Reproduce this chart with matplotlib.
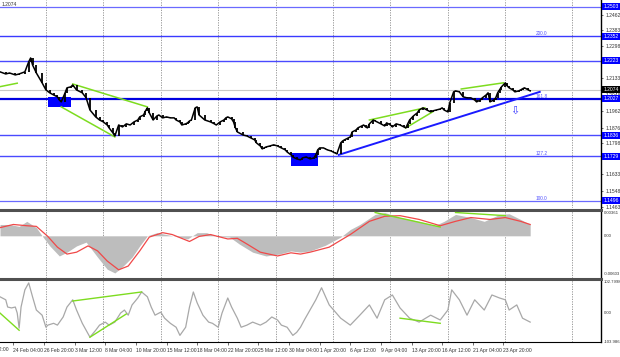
import matplotlib.pyplot as plt

# price samples (bar index, close)
price_bar = [0, 3, 5, 8, 10, 13, 15, 16, 17, 19, 22, 24, 26, 28, 30, 31, 32, 34, 35, 37, 38, 40, 43, 45, 47,
             50, 52, 54, 56, 57, 59, 60, 62, 64, 66, 68, 70, 72, 73, 75, 76, 77, 78, 80, 82, 83, 85, 87, 89,
             91, 92, 94, 95, 97, 98, 99, 100, 102, 103, 104, 107, 110, 112, 113, 115, 117, 118, 119, 121,
             122, 123, 124, 127, 129, 131, 133, 134, 136, 137, 138, 139, 141, 143, 145, 147, 149, 150, 152,
             153, 155, 157, 158, 160, 162, 164, 165, 166, 167, 169, 170, 171, 173, 174, 175, 176, 178, 179,
             180, 182, 183, 184, 186, 187, 189, 190, 191, 192, 193, 195, 196, 199, 201, 202, 204, 205, 207,
             209, 211, 212, 213, 214, 216, 218, 219, 221, 223, 225, 226, 228, 230, 231, 232, 234, 235, 237,
             238, 240, 242, 244, 246, 248, 249, 251, 252, 254, 255, 256, 258, 259, 260, 261, 262, 264, 265,
             266, 268, 269, 271, 272, 273, 274, 276, 277]
price = [1.2166, 1.2155, 1.2160, 1.2150, 1.2155, 1.2166, 1.2218, 1.2238, 1.2202, 1.2160, 1.2109, 1.2072,
         1.2057, 1.2046, 1.2036, 1.2020, 1.2010, 1.2057, 1.2083, 1.2088, 1.2098, 1.2072, 1.2057, 1.2031,
         1.1968, 1.1932, 1.1916, 1.1906, 1.1890, 1.1875, 1.1849, 1.1833, 1.1890, 1.1880, 1.1896, 1.1890,
         1.1906, 1.1916, 1.1932, 1.1942, 1.1963, 1.1979, 1.1953, 1.1916, 1.1937, 1.1942, 1.1927, 1.1932,
         1.1927, 1.1927, 1.1916, 1.1906, 1.1890, 1.1896, 1.1901, 1.1911, 1.1916, 1.1979, 1.1984, 1.1942,
         1.1916, 1.1906, 1.1896, 1.1890, 1.1906, 1.1916, 1.1927, 1.1932, 1.1922, 1.1906, 1.1875, 1.1854,
         1.1838, 1.1833, 1.1823, 1.1813, 1.1797, 1.1781, 1.1766, 1.1771, 1.1776, 1.1781, 1.1787, 1.1781,
         1.1771, 1.1761, 1.1750, 1.1735, 1.1724, 1.1714, 1.1709, 1.1719, 1.1724, 1.1714, 1.1719, 1.1735,
         1.1761, 1.1771, 1.1771, 1.1766, 1.1761, 1.1755, 1.1750, 1.1745, 1.1740, 1.1797, 1.1807, 1.1813,
         1.1823, 1.1828, 1.1854, 1.1864, 1.1875, 1.1885, 1.1890, 1.1880, 1.1875, 1.1896, 1.1916, 1.1911,
         1.1896, 1.1885, 1.1901, 1.1890, 1.1880, 1.1896, 1.1890, 1.1880, 1.1875, 1.1896, 1.1916, 1.1937,
         1.1953, 1.1968, 1.1979, 1.1968, 1.1958, 1.1963, 1.1968, 1.1973, 1.1979, 1.1968, 1.1958, 1.2005,
         1.2062, 1.2067, 1.2062, 1.2036, 1.2031, 1.2031, 1.2020, 1.2010, 1.2020, 1.2031, 1.2046, 1.2057,
         1.2010, 1.2020, 1.2031, 1.2057, 1.2072, 1.2088, 1.2109, 1.2093, 1.2083, 1.2072, 1.2062, 1.2067,
         1.2072, 1.2078, 1.2083, 1.2072, 1.2067]
last_price = 1.2074

# horizontal levels on the price panel
level_price = [1.2503, 1.2352, 1.2223, 1.2027, 1.1836, 1.1729, 1.1496]
level_fibo = ["", "200.0", "", "161.8", "", "127.2", "100.0"]
level_width = [0.9, 1.0, 1.0, 1.6, 1.0, 1.0, 0.9]
level_color = ["#6a6aff", "#3a3aff", "#4a4aff", "#0000e0", "#4a4aff", "#4a4aff", "#6a6aff"]
price_ticks = [1.2462, 1.2383, 1.2298, 1.2133, 1.2048, 1.1962, 1.1876, 1.1798, 1.1717, 1.1633, 1.1548, 1.1463]

green_price = [((0, 1.2089), (9, 1.2107)), ((38, 1.2103), (77, 1.1984)), ((32, 1.1984), (60, 1.1828)),
               ((193, 1.1916), (222, 1.1979)), ((212, 1.1875), (226, 1.1958)), ((241, 1.2077), (263, 1.2109))]
trend_line = ((177, 1.1735), (282, 1.2062))
boxes = [((25, 37), (1.1984, 1.2036)), ((152, 166), (1.1678, 1.1745))]
arrow_at = (269, 1.1963)

# MACD histogram and signal
macd_bar = [0, 5, 10, 14, 19, 22, 26, 31, 35, 40, 45, 51, 56, 60, 64, 69, 73, 77, 82, 87, 92, 98, 103, 108,
            113, 120, 125, 132, 139, 146, 152, 157, 162, 170, 178, 183, 188, 196, 201, 209, 219, 227, 232,
            238, 246, 253, 261, 266, 272, 277]
macd_hist = [0.0018, 0.0018, 0.0015, 0.0023, 0.0013, 0.0, -0.0016, -0.0032, -0.0026, -0.0016, -0.0010,
             -0.0034, -0.0053, -0.0059, -0.0049, -0.0034, -0.0016, 0.0, 0.0005, 0.0002, -0.0001, -0.0005,
             0.0005, 0.0005, -0.0001, -0.0002, -0.0013, -0.0026, -0.0032, -0.0029, -0.0024, -0.0026,
             -0.0024, -0.0015, -0.0002, 0.0010, 0.0018, 0.0034, 0.0037, 0.0029, 0.0023, 0.0016, 0.0023,
             0.0034, 0.0029, 0.0023, 0.0034, 0.0035, 0.0026, 0.0018]
signal_bar = [0, 7, 14, 19, 25, 30, 35, 40, 46, 51, 56, 62, 67, 73, 78, 85, 90, 99, 104, 110, 119, 124, 129,
              136, 145, 152, 157, 162, 172, 183, 193, 201, 209, 219, 230, 238, 246, 256, 264, 272, 277]
signal = [0.0013, 0.0018, 0.0016, 0.0015, -0.0001, -0.0018, -0.0029, -0.0026, -0.0016, -0.0024, -0.0040,
          -0.0054, -0.0048, -0.0024, -0.0002, 0.0005, 0.0002, -0.0009, -0.0001, 0.0002, -0.0005, -0.0004,
          -0.0013, -0.0026, -0.0032, -0.0027, -0.0029, -0.0026, -0.0018, 0.0002, 0.0023, 0.0031, 0.0032,
          0.0026, 0.0016, 0.0023, 0.0029, 0.0026, 0.0029, 0.0023, 0.0018]
green_macd = [((196, 0.0037), (230, 0.0014)), ((238, 0.0037), (264, 0.0032))]

# oscillator (CCI)
osc_bar = [0, 3, 4, 6, 8, 9, 10, 11, 13, 15, 17, 19, 22, 24, 25, 28, 30, 33, 35, 38, 40, 43, 47, 50, 52, 55,
           57, 60, 63, 65, 67, 69, 72, 74, 77, 79, 81, 84, 86, 89, 92, 94, 97, 99, 101, 103, 106, 109, 111,
           114, 116, 119, 121, 124, 126, 129, 132, 136, 139, 142, 145, 147, 150, 153, 155, 157, 159, 165,
           168, 172, 178, 183, 188, 193, 197, 201, 205, 209, 214, 219, 225, 230, 234, 236, 240, 244, 248,
           253, 257, 261, 264, 266, 270, 273, 277]
osc = [54, 44, 20, 17, 20, 0, -50, 20, 77, 100, 54, 10, -7, -47, -40, -34, -40, -13, 20, 44, 10, -34, -80,
       -57, -40, -30, -40, -30, 0, 10, -7, 27, 50, 70, 54, 20, -7, 3, -17, -34, -47, -74, -47, 20, 70, 34,
       -7, -30, -34, -47, 0, 50, 20, -17, -47, -40, -30, -40, -30, -13, -23, -40, -47, -74, -64, -47, -23,
       44, 84, 27, -17, -40, -7, 27, -17, 44, 60, 17, -17, -30, -7, -23, 10, 77, 44, -7, 44, 10, 60, 50,
       44, 10, 27, -17, -30]
green_osc = [((0, 0), (10, -57)), ((38, 40), (74, 70)), ((47, -80), (66, -3)), ((209, -17), (230, -34))]

tick_bar = [7, 23, 39, 55, 71, 87, 103, 119, 135, 151, 167, 183, 199, 215, 231, 247, 263]
tick_label = ["24 Feb 04:00", "26 Feb 20:00", "3 Mar 12:00", "8 Mar 04:00", "10 Mar 20:00", "15 Mar 12:00",
              "18 Mar 04:00", "22 Mar 20:00", "25 Mar 12:00", "30 Mar 04:00", "1 Apr 20:00", "6 Apr 12:00",
              "9 Apr 04:00", "13 Apr 20:00", "16 Apr 12:00", "21 Apr 04:00", "23 Apr 20:00"]
grid_bar = [24, 54, 84, 114, 144, 174, 204, 234, 264, 299]

plt.rcParams['font.family'] = ['Liberation Sans', 'DejaVu Sans']
W, H = 620, 357
fig = plt.figure(figsize=(6.2, 3.57), dpi=100)


def panel(top, bottom, share=None):
    return fig.add_axes([0, (H - bottom) / H, 601 / W, (bottom - top) / H], sharex=share)


ax = panel(0, 208)
ax_macd = panel(210, 278, ax)
ax_osc = panel(279, 342, ax)
ax.set_xlim(0, 314)
ax.set_ylim(1.1459, 1.2539)
ax_macd.set_ylim(-0.0067, 0.0041)
ax_osc.set_ylim(-96, 113)

LBL = 3.6
SUB = 3.1
TXT = "#333333"
for a in (ax, ax_macd, ax_osc):
    for g in grid_bar:
        a.axvline(g, color="#8c8c8c", lw=0.6, ls=(0, (1.5, 1.5)), zorder=0)
    a.spines['left'].set_visible(False)
    a.spines['right'].set_color('black')
    a.spines['right'].set_linewidth(1.0)
    a.tick_params(axis='y', left=False, labelleft=False)
    a.tick_params(axis='x', bottom=False, labelbottom=False)
ax.spines['top'].set_visible(False)
ax.spines['bottom'].set_visible(False)
ax_macd.spines['bottom'].set_visible(False)
for a in (ax_macd, ax_osc):
    a.spines['top'].set_color('#505050')
    a.spines['top'].set_linewidth(2.2)

# price panel
ax.axhline(last_price, color="#c8c8c8", lw=0.8, zorder=1)
for p, fib, w, c in zip(level_price, level_fibo, level_width, level_color):
    ax.axhline(p, color=c, lw=w, zorder=2)
    if fib:
        ax.text(286, p, fib, color="#5050ff", fontsize=3.4, ha='right', va='bottom')
for (x0, x1), (y0, y1) in boxes:
    ax.fill_between([x0, x1], y0, y1, color="#0000ff", lw=0, zorder=3)
for (x0, y0), (x1, y1) in green_price:
    ax.plot([x0, x1], [y0, y1], color="#7ddc1f", lw=1.1, zorder=4)
(tx0, ty0), (tx1, ty1) = trend_line
ax.plot([tx0, tx1], [ty0, ty1], color="#1a1aff", lw=1.4, zorder=4)
lo = [min(a, b) for a, b in zip(price[:-1], price[1:])]
hi = [max(a, b) for a, b in zip(price[:-1], price[1:])]
ax.vlines(price_bar[1:], lo, hi, color="black", lw=1.3, zorder=5)
ax.plot(price_bar, price, color="black", lw=1.1, zorder=5)
ax.text(arrow_at[0], arrow_at[1], "\u21e9", color="#3a3aff", fontsize=8, ha='center', va='center',
        family='DejaVu Sans', zorder=6)

ax.set_yticks(price_ticks)
ax.set_yticklabels([f"{t:.4f}" for t in price_ticks])
ax.tick_params(axis='y', right=True, labelright=True, labelsize=LBL, length=1.5, pad=1.5,
               colors=TXT, width=0.5)
ytr = ax.get_yaxis_transform()
for p in level_price:
    ax.text(1.004, p, f"{p:.4f}", transform=ytr, fontsize=LBL, color="white", ha='left', va='center',
            clip_on=False, zorder=10,
            bbox=dict(facecolor="#0000ff", edgecolor='none', boxstyle='square,pad=0.2'))
ax.text(1.004, last_price, f"{last_price:.4f}", transform=ytr, fontsize=LBL, color="white", ha='left',
        va='center', clip_on=False, zorder=10,
        bbox=dict(facecolor="black", edgecolor='none', boxstyle='square,pad=0.2'))
fig.text(2 / W, 1 - 5 / H, f"{last_price:.4f}", fontsize=LBL, color=TXT, va='center')

# MACD panel
ax_macd.fill_between(macd_bar, 0, macd_hist, color="#bdbdbd", lw=0, zorder=1)
ax_macd.plot(signal_bar, signal, color="#f04848", lw=0.9, zorder=3)
for (x0, y0), (x1, y1) in green_macd:
    ax_macd.plot([x0, x1], [y0, y1], color="#7ddc1f", lw=1.0, zorder=4)
mtr = ax_macd.get_yaxis_transform()
for v, s in [(0.00361, "0.00361"), (0.0, "0.00"), (-0.00603, "-0.00603")]:
    ax_macd.text(1.004, v, s, transform=mtr, fontsize=SUB, color=TXT, ha='left', va='center',
                 clip_on=False)

# oscillator panel
ax_osc.plot(osc_bar, osc, color="#a8a8a8", lw=0.9, zorder=2)
for (x0, y0), (x1, y1) in green_osc:
    ax_osc.plot([x0, x1], [y0, y1], color="#7ddc1f", lw=1.0, zorder=3)
otr = ax_osc.get_yaxis_transform()
for v, s in [(102.7998, "102.7998"), (0, "0.00")]:
    ax_osc.text(1.004, v, s, transform=otr, fontsize=SUB, color=TXT, ha='left', va='center', clip_on=False)
ax_osc.text(1.004, 0.0, "-103.986", transform=ax_osc.transAxes, fontsize=SUB, color=TXT, ha='left',
            va='center', clip_on=False)

ax_osc.set_xticks(tick_bar)
ax_osc.set_xticklabels(tick_label)
ax_osc.tick_params(axis='x', bottom=True, labelbottom=True, labelsize=LBL, length=2, pad=2,
                   colors=TXT, width=0.5)
for t in ax_osc.get_xticklabels():
    t.set_ha('left')
ax_osc.text(-11, -0.08, "22 Feb 12:00", transform=ax_osc.get_xaxis_transform(), fontsize=LBL,
            color=TXT, ha='left', va='top', clip_on=False)

fig.savefig("out.png", dpi=100)
